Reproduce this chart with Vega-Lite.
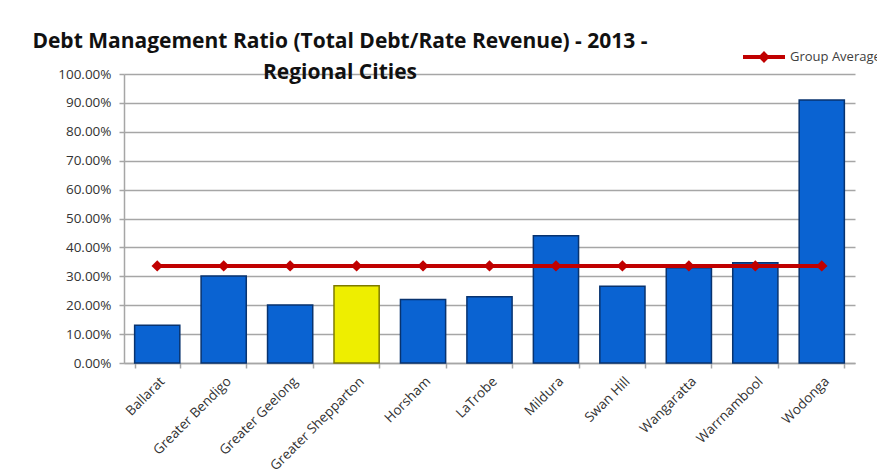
{
  "$schema": "https://vega.github.io/schema/vega-lite/v6.json",
  "width": 731,
  "height": 289,
  "autosize": "none",
  "padding": {"left": 124, "top": 74, "right": 22, "bottom": 112},
  "background": "white",
  "title": {
    "text": ["Debt Management Ratio (Total Debt/Rate Revenue) - 2013 -", "Regional Cities"],
    "anchor": "start",
    "align": "center",
    "frame": "group",
    "dx": 216,
    "font": "Open Sans",
    "fontSize": 21,
    "fontWeight": "bold",
    "color": "#111111",
    "lineHeight": 31,
    "offset": -47
  },
  "config": {
    "view": {"stroke": null},
    "axis": {
      "labelFont": "Open Sans",
      "labelColor": "#333333",
      "domainColor": "#a6a6a6",
      "tickColor": "#a6a6a6",
      "gridColor": "#a6a6a6",
      "domainWidth": 1.5,
      "tickWidth": 1.5,
      "gridWidth": 1.5
    }
  },
  "data": {
    "values": [
      {"city": "Ballarat", "ratio": 0.131, "avg": 0.336},
      {"city": "Greater Bendigo", "ratio": 0.301, "avg": 0.336},
      {"city": "Greater Geelong", "ratio": 0.201, "avg": 0.336},
      {"city": "Greater Shepparton", "ratio": 0.267, "avg": 0.336},
      {"city": "Horsham", "ratio": 0.22, "avg": 0.336},
      {"city": "LaTrobe", "ratio": 0.229, "avg": 0.336},
      {"city": "Mildura", "ratio": 0.44, "avg": 0.336},
      {"city": "Swan Hill", "ratio": 0.266, "avg": 0.336},
      {"city": "Wangaratta", "ratio": 0.33, "avg": 0.336},
      {"city": "Warrnambool", "ratio": 0.347, "avg": 0.336},
      {"city": "Wodonga", "ratio": 0.91, "avg": 0.336}
    ]
  },
  "layer": [
    {
      "mark": {"type": "bar", "strokeWidth": 1.5},
      "encoding": {
        "x": {
          "field": "city",
          "type": "nominal",
          "sort": null,
          "scale": {"paddingInner": 0.32, "paddingOuter": 0.16},
          "axis": {
            "title": null,
            "labelAngle": -45,
            "labelFontSize": 13.5,
            "labelPadding": 6,
            "labelOverlap": false,
            "tickSize": 5,
            "tickBand": "extent",
            "grid": false
          }
        },
        "y": {
          "field": "ratio",
          "type": "quantitative",
          "scale": {"domain": [0, 1]},
          "axis": {
            "title": null,
            "format": ".2%",
            "values": [0, 0.1, 0.2, 0.3, 0.4, 0.5, 0.6, 0.7, 0.8, 0.9, 1],
            "labelFontSize": 13.5,
            "labelPadding": 8,
            "labelOverlap": false,
            "tickSize": 5,
            "grid": true
          }
        },
        "color": {
          "condition": {"test": "datum.city === 'Greater Shepparton'", "value": "#eeee00"},
          "value": "#0a63d2"
        },
        "stroke": {
          "condition": {"test": "datum.city === 'Greater Shepparton'", "value": "#7d7a00"},
          "value": "#08336f"
        }
      }
    },
    {
      "mark": {
        "type": "line",
        "strokeWidth": 4,
        "point": {"shape": "diamond", "size": 130, "filled": true, "opacity": 1}
      },
      "encoding": {
        "x": {
          "field": "city",
          "type": "nominal",
          "sort": null,
          "axis": {
            "title": null,
            "labelAngle": -45,
            "labelFontSize": 13.5,
            "labelPadding": 6,
            "labelOverlap": false,
            "tickSize": 5,
            "tickBand": "extent",
            "grid": false
          }
        },
        "y": {
          "field": "avg",
          "type": "quantitative",
          "axis": {
            "title": null,
            "format": ".2%",
            "values": [0, 0.1, 0.2, 0.3, 0.4, 0.5, 0.6, 0.7, 0.8, 0.9, 1],
            "labelFontSize": 13.5,
            "labelPadding": 8,
            "labelOverlap": false,
            "tickSize": 5,
            "grid": true
          }
        },
        "color": {
          "datum": "Group Average",
          "type": "nominal",
          "scale": {"range": ["#c00000"]},
          "legend": {
            "title": null,
            "orient": "none",
            "legendX": 619,
            "legendY": -38,
            "padding": 0,
            "symbolType": "M -1 -0.09 H 1 V 0.09 H -1 Z M 0 -0.28 L 0.28 0 L 0 0.28 L -0.28 0 Z",
            "symbolSize": 1764,
            "symbolFillColor": "#c00000",
            "symbolStrokeWidth": 0,
            "labelFont": "Open Sans",
            "labelFontSize": 13,
            "labelColor": "#404040",
            "labelOffset": 5,
            "labelLimit": 300
          }
        }
      }
    }
  ]
}
